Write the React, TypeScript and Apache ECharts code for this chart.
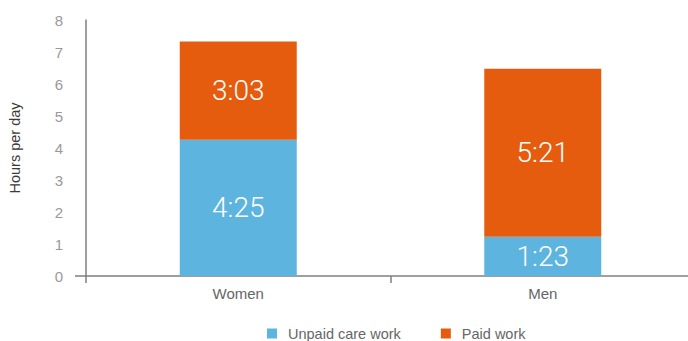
import React, { useEffect, useRef } from "react";
import * as echarts from "echarts";

const categories = ["Women", "Men"];
const unpaidValues = [4.26, 1.23];
const paidValues = [3.07, 5.25];
const unpaidLabels = ["4:25", "1:23"];
const paidLabels = ["3:03", "5:21"];
const seriesNames = ["Unpaid care work", "Paid work"];
const yMin = 0;
const yMax = 8;
const yInterval = 1;

export default function App() {
  const ref = useRef<HTMLDivElement>(null);
  useEffect(() => {
    document.body.style.margin = "0";
    const chart = echarts.init(ref.current!, null, { renderer: "svg" });
    const axisColor = "#7f7f7f";
    const barLabel = (labels: string[]) => ({
      show: true,
      position: "inside",
      color: "#ffffff",
      fontSize: 28,
      fontWeight: 300,
      fontFamily: "Roboto, sans-serif",
      formatter: (p: any) => labels[p.dataIndex],
    });
    chart.setOption({
      animation: false,
      textStyle: { fontFamily: "'Liberation Sans', Arial, sans-serif" },
      grid: {
        left: 86,
        right: -7,
        top: 20,
        bottom: 65,
        containLabel: false,
        outerBoundsMode: "none",
      },
      legend: {
        data: seriesNames,
        left: 262,
        top: 321,
        icon: "rect",
        itemWidth: 10,
        itemHeight: 10,
        itemGap: 40,
        textStyle: { fontSize: 14.5, color: "#666666", padding: [0, 0, 0, 6] },
      },
      xAxis: {
        type: "category",
        data: categories,
        axisLine: { show: true, lineStyle: { color: axisColor, width: 1.5 } },
        axisTick: { show: true, length: 7, lineStyle: { color: axisColor, width: 1.5 } },
        axisLabel: { fontSize: 15, color: "#666666", margin: 10 },
      },
      yAxis: {
        type: "value",
        min: yMin,
        max: yMax,
        interval: yInterval,
        name: "Hours per day",
        nameLocation: "middle",
        nameRotate: 90,
        nameGap: 64,
        nameTextStyle: { fontSize: 14.5, color: "#3a3a3a" },
        axisLine: { show: true, lineStyle: { color: axisColor, width: 1.5 } },
        axisTick: { show: false },
        splitLine: { show: false },
        axisLabel: { fontSize: 15, color: "#999999", margin: 23 },
      },
      graphic: [
        {
          type: "line",
          shape: { x1: 75, y1: 276, x2: 86, y2: 276 },
          style: { stroke: axisColor, lineWidth: 1.5 },
        },
      ],
      series: [
        {
          name: seriesNames[0],
          type: "bar",
          stack: "total",
          barWidth: 117,
          data: unpaidValues,
          itemStyle: { color: "#5db5df" },
          label: barLabel(unpaidLabels),
        },
        {
          name: seriesNames[1],
          type: "bar",
          stack: "total",
          barWidth: 117,
          data: paidValues,
          itemStyle: { color: "#e65c0e" },
          label: barLabel(paidLabels),
        },
      ],
    });
    return () => chart.dispose();
  }, []);
  return <div ref={ref} style={{ width: 688, height: 341 }} />;
}
